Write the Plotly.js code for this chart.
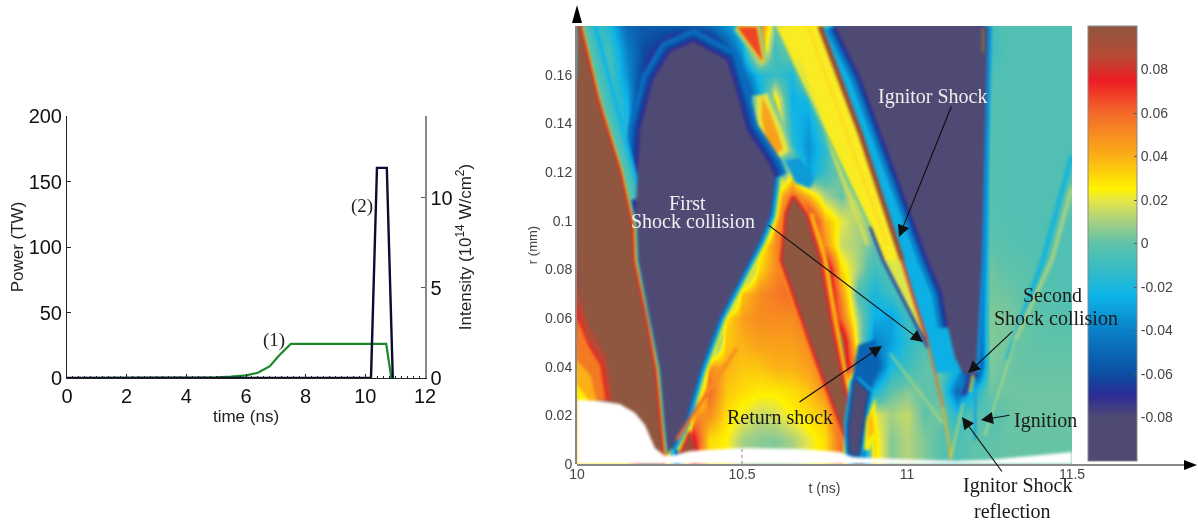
<!DOCTYPE html>
<html><head><meta charset="utf-8">
<script src="https://cdn.plot.ly/plotly-3.0.1.min.js"></script>
<style>
html,body{margin:0;padding:0;background:#fff}
#plot{width:1198px;height:523px;filter:blur(.35px)}
.subplot.x2y3 .scatterlayer{filter:blur(1.5px)}
</style></head><body><div id="plot"></div>
<script>
// ---------- left chart data ----------
const timeGreen=[0,4,5,5.5,6,6.4,6.8,7.1,7.5,10.7,10.87];
const powerGreen=[0,.2,.5,1,2,4,9,17,26,26,0];
const timeBlack=[0,10.19,10.39,10.72,10.92];
const intensityBlack=[0,0,11.67,11.67,0];
// ---------- right chart data ----------
const tValues=[10,10.05,10.1,10.15,10.2,10.25,10.3,10.35,10.4,10.45,10.5,10.55,10.6,10.65,10.7,10.75,10.8,10.85,10.9,10.95,11,11.05,11.1,11.15,11.2,11.25,11.3,11.35,11.4,11.45,11.5];
const rValues=[0,.01,.02,.03,.04,.05,.06,.07,.08,.09,.1,.11,.12,.13,.14,.15,.16,.17,.18];
const zValues=[
[.03,.03,.03,.03,.1,.1,-.05,.08,.03,.025,.01,.006,.005,.01,.02,.03,.06,-.08,.03,.005,.012,.005,-.002,-.005,0,0,.001,.001,.001,.001,.001],
[.03,.03,.03,.03,.1,.1,-.05,.08,.03,.025,.01,.006,.005,.01,.02,.03,.06,-.08,.03,.005,.012,.005,-.002,-.005,0,0,.001,.001,.001,.001,.001],
[.03,.07,.085,.1,.1,.1,-.1,.05,.05,.03,.022,.015,.017,.025,.03,.035,.07,-.1,.02,.01,.015,0,.003,-.015,0,-.003,.001,.002,.002,.002,.002],
[.03,.045,.07,.1,.1,-.1,-.1,-.03,.06,.035,.03,.027,.027,.03,.035,.05,.08,-.1,-.02,0,.005,0,0,-.05,-.02,.002,.002,.002,.002,.002,.002],
[.04,.06,.075,.1,.1,-.1,-.1,-.1,.05,.04,.035,.035,.04,.04,.045,.055,.1,.04,-.06,-.02,-.01,0,0,-.02,-.1,.004,.002,.001,.001,.001,.001],
[.06,.07,.09,.1,.1,-.1,-.1,-.1,-.04,.035,.04,.045,.045,.045,.05,.07,.1,.015,-.04,-.03,-.015,-.005,0,-.03,-.1,.005,.003,.001,0,0,0],
[.07,.08,.1,.1,.09,-.1,-.1,-.1,-.1,.03,.045,.05,.05,.05,.06,.1,.06,.01,-.025,-.03,-.01,-.005,-.03,-.1,-.1,.005,.004,.001,0,-.002,-.003],
[.07,.09,.1,.1,-.1,-.1,-.1,-.1,-.1,-.05,.035,.05,.055,.06,.07,.1,.05,-.005,-.02,-.01,.005,.005,-.03,-.1,-.1,.003,.002,0,-.002,-.003,-.004],
[.085,.1,.1,.1,-.1,-.1,-.1,-.1,-.1,-.1,-.03,.03,.05,.06,.09,.1,.03,.01,-.01,0,.015,0,-.05,-.09,-.1,.002,0,-.001,-.003,-.004,-.004],
[.1,.1,.1,.1,-.1,-.1,-.1,-.1,-.1,-.1,-.1,.02,.05,.09,.1,.05,.015,.01,0,.01,.02,-.03,-.07,-.1,-.1,0,-.002,-.003,-.004,-.004,-.004],
[.1,.1,.1,.1,-.1,-.1,-.1,-.1,-.1,-.1,-.1,-.1,.04,.085,.09,.04,.02,.01,.015,.024,.015,-.05,-.09,-.1,-.1,-.002,-.003,-.004,-.004,-.004,-.004],
[.1,.1,.1,0,-.1,-.1,-.1,-.1,-.1,-.1,-.1,-.08,.03,.06,.04,.01,0,.02,.026,.024,-.04,-.07,-.1,-.1,-.1,-.002,-.004,-.004,-.004,-.004,.004],
[.1,.1,.1,-.02,-.1,-.1,-.1,-.1,-.1,-.1,-.1,-.1,-.03,.02,-.03,-.01,.005,.026,.027,-.04,-.07,-.1,-.1,-.1,-.1,-.002,-.004,-.004,-.004,-.004,-.004],
[.1,.1,.06,-.01,-.1,-.1,-.1,-.1,-.1,-.1,-.1,-.09,.035,-.015,-.035,-.015,.02,.028,-.04,-.07,-.1,-.1,-.1,-.1,-.1,-.002,-.004,-.004,-.004,-.004,-.004],
[.1,.1,0,-.02,-.09,-.1,-.1,-.1,-.1,-.1,-.1,-.06,.04,-.02,-.03,0,.025,.05,-.05,-.09,-.1,-.1,-.1,-.1,-.1,-.003,-.004,-.004,-.004,-.004,-.004],
[.1,.1,-.002,-.025,-.08,-.1,-.1,-.1,-.1,-.1,-.08,-.03,.03,-.025,-.02,.024,.028,-.045,-.09,-.1,-.1,-.1,-.1,-.1,-.1,-.003,-.004,-.004,-.004,-.004,-.004],
[.1,.02,-.005,-.035,-.065,-.1,-.1,-.1,-.1,-.09,-.05,-.02,-.01,-.02,.02,.026,.02,-.05,-.1,-.1,-.1,-.1,-.1,-.1,-.1,-.004,-.004,-.004,-.004,-.004,-.004],
[.1,-.002,-.01,-.04,-.06,-.07,-.09,-.1,-.09,-.06,-.03,.05,-.01,.01,.025,.027,-.05,-.1,-.1,-.1,-.1,-.1,-.1,-.1,-.1,-.01,-.004,-.004,-.004,-.004,-.004],
[.1,-.005,-.02,-.05,-.055,-.055,-.055,-.055,-.05,-.035,-.02,.06,.005,.025,.027,.025,-.06,-.1,-.1,-.1,-.1,-.1,-.1,-.1,-.1,-.006,-.004,-.004,-.004,-.004,-.004]
];
// sharp structures, [t (ns)] and [r (mm)]
const yellowBandT=[10.6,10.736,10.858,10.985,11.024,11.064,10.927,10.888];
const yellowBandR=[.18,.18,.136,.0838,.0662,.0477,.0838,.0974];
const paleBandT=[10.93,10.985,11.024,11.064];
const paleBandR=[.0838,.0838,.0662,.0477];
const streakOneT=[10.67,10.88];
const streakOneR=[.166,.09];
const streakTwoT=[10.7,10.94];
const streakTwoR=[.18,.09];
const thinShockT=[10.6,10.888];
const thinShockR=[.1796,.0974];
const darkShockT=[10.888,10.927,11.064];
const darkShockR=[.0974,.0838,.0477];
const topWedgeT=[10.485,10.545,10.564,10.485];
const topWedgeR=[.1796,.1796,.165,.1796];
const lensT=[10.56,10.585,10.609,10.624,10.6,10.575,10.56,10.56];
const lensR=[.1515,.1443,.136,.1295,.1272,.1332,.1414,.1515];
const spotT=[10.63,10.676,10.721,10.706,10.661,10.63];
const spotR=[.125,.1258,.1176,.1134,.1155,.125];
const frontT=[10.6,10.594,10.585,10.555,10.524,10.433,10.373,10.327,10.288];
const frontR=[.1176,.1106,.1023,.0921,.0838,.0604,.0386,.0169,.0066];
const arcT=[10.176,10.182,10.191,10.23,10.282,10.352,10.455,10.491,10.515,10.585,10.6];
const arcR=[.1,.1167,.1373,.1578,.1693,.1735,.166,.1496,.1373,.1229,.1176];
const purpleT=[10.352,10.455,10.491,10.515,10.585,10.6,10.594,10.585,10.555,10.524,10.433,10.373,10.327,10.288,10.273,10.258,10.245,10.236,10.209,10.179,10.176,10.182,10.191,10.23,10.282];
const purpleR=[.1735,.166,.1496,.1373,.1229,.1176,.1106,.1023,.0921,.0838,.0604,.0386,.0169,.0066,.0037,.0078,.0169,.0386,.0604,.0838,.1,.1167,.1373,.1578,.1693];
const wedgeUpperT=[10.009,10.064,10.13,10.15];
const wedgeUpperR=[.18,.149,.12,.108];
const wedgeEdgeT=[10.009,10.064,10.13,10.167,10.17,10.206,10.236,10.25,10.26];
const wedgeEdgeR=[.18,.149,.12,.0974,.0838,.0604,.0386,.017,.004];
const wedgeT=[10,10.009,10.064,10.13,10.167,10.17,10.206,10.236,10.25,10.26,10];
const wedgeR=[.18,.18,.149,.12,.0974,.0838,.0604,.0386,.017,.004,0];
const hotRedT=[10,10.039,10.09,10.109,10];
const hotRedR=[.0715,.056,.044,.0263,.0263];
const hotDeepT=[10,10.03,10.08,10.097,10];
const hotDeepR=[.066,.052,.041,.0263,.0263];
const hotOrangeT=[10,10.033,10.07,10.086,10];
const hotOrangeR=[.06,.0489,.0407,.0263,.0263];
const hotAmberT=[10,10.04,10.06,10];
const hotAmberR=[.0427,.0366,.0255,.0255];
const hotYellowT=[10,10.024,10.04,10];
const hotYellowR=[.0325,.0284,.0255,.0255];
const brownT=[10.655,10.694,10.736,10.767,10.812,10.824,10.83,10.818,10.727,10.621,10.636,10.655];
const brownR=[.1097,.1023,.0838,.0592,.0292,.0152,.0033,.0099,.0427,.0838,.1032,.1097];
const brownRightT=[10.694,10.736,10.767,10.812,10.824,10.83];
const brownRightR=[.1023,.0838,.0592,.0292,.0152,.0033];
const notchT=[10.842,10.824,10.827,10.852,10.873,10.882,10.842];
const notchR=[.0345,.0152,.0045,.0037,.0234,.0292,.0345];
const deepBlueT=[10.833,10.852,10.903,10.918,10.888,10.833];
const deepBlueR=[.0345,.0489,.051,.0407,.0296,.0345];
const patchT=[10.903,10.909,10.888,10.87,10.876,10.903];
const patchR=[.0271,.014,.0058,.0058,.0181,.0271];
const patchCoreT=[10.894,10.9,10.882,10.882,10.894];
const patchCoreR=[.0214,.0132,.0099,.0181,.0214];
const streakLowT=[10.303,10.394];
const streakLowR=[.0099,.0292];
const streakHighT=[10.394,10.485];
const streakHighR=[.0292,.0477];
const blobT=[10.342,10.364,10.312,10.342];
const blobR=[.0132,.0049,.0041,.0132];
const bandT=[10.736,10.858,10.985,11.024,11.061,11.085,11.167,11.145,11.124,11.106,11.064,10.858,10.782];
const bandR=[.18,.136,.0838,.0662,.051,.0374,.0378,.044,.0563,.0703,.0838,.159,.18];
const darkEdgeT=[10.782,10.858,11.064,11.106,11.124];
const darkEdgeR=[.18,.159,.0838,.0703,.0563];
const rightEdgeT=[11.245,11.227,11.209];
const rightEdgeR=[.18,.0838,.0374];
const darkT=[10.782,10.858,11.064,11.106,11.124,11.145,11.167,11.206,11.209,11.227,11.245];
const darkR=[.18,.159,.0838,.0703,.0563,.044,.0378,.0353,.0374,.0838,.18];
const shockTopT=[10.736,10.858,10.985];
const shockTopR=[.18,.136,.0838];
const shockMidT=[10.985,11.024,11.061];
const shockMidR=[.0838,.0662,.051];
const shockLowT=[11.061,11.085,11.109];
const shockLowR=[.051,.0374,.0234];
const shockEndT=[11.109,11.124,11.133];
const shockEndR=[.0234,.0111,.0016];
const reflectT=[11.133,11.17];
const reflectR=[.0025,.0251];
const faintT=[10.948,11.109];
const faintR=[.0456,.0168];
const spotDarkT=[11.161,11.179,11.206,11.191,11.161];
const spotDarkR=[.0284,.028,.0366,.0378,.0284];
const sparkT=[11.2,11.191];
const sparkR=[.0366,.0296];
const ignitionT=[11.206,11.206];
const ignitionR=[.0353,.0099];
const cyanTopT=[11.5,11.412,11.303];
const cyanTopR=[.127,.0838,.0427];
const cyanLowT=[11.303,11.236];
const cyanLowR=[.0427,.014];
const greenTopT=[11.5,11.439,11.327];
const greenTopR=[.1138,.0838,.051];
const greenLowT=[11.327,11.236];
const greenLowR=[.051,.0119];
const hairT=[11.23,11.23];
const hairR=[.179,.169];
const maskT=[10,10.07,10.13,10.176,10.206,10.236,10.267,10.297,10.342,10.5,10.676,10.797,10.833,10.888,11.14,11.242,11.5,11.5,10];
const maskR=[.0263,.0259,.0247,.021,.016,.0066,.0033,.0037,.0053,.0066,.0062,.0049,.0029,.0025,.0012,.0016,.0049,0,0];
const colorTicks=[.08,.06,.04,.02,0,-.02,-.04,-.06,-.08];
const colorTickText=['0.08','0.06','0.04','0.02','0','-0.02','-0.04','-0.06','-0.08'];

const scale=[[0,'#4f4a73'],[.1,'#4f4a73'],[.15,'#2c2c96'],[.2,'#0b4ea2'],[.3,'#0a80c8'],[.38,'#0db4e8'],[.45,'#3cbdc0'],[.5,'#5fc2aa'],[.55,'#a6d083'],[.6,'#e6e645'],[.625,'#fff200'],[.7,'#fbb016'],[.8,'#f4692a'],[.875,'#ed1c24'],[.93,'#b64a35'],[1,'#8f5640']];

const traces=[
 {type:'scatter',mode:'lines',x:timeBlack,y:intensityBlack,yaxis:'y2',xaxis:'x',line:{color:'#0b0b33',width:2.4},cliponaxis:false,showlegend:false,hoverinfo:'skip'},
 {type:'scatter',mode:'lines',x:timeGreen,y:powerGreen,xaxis:'x',yaxis:'y',line:{color:'#1a8a2a',width:2.2},cliponaxis:false,showlegend:false,hoverinfo:'skip'},
 {type:'heatmap',x:tValues,y:rValues,z:zValues,xaxis:'x2',yaxis:'y3',zmin:-.1,zmax:.1,zsmooth:'best',colorscale:scale,hoverinfo:'skip',
  colorbar:{x:1088/1198,xanchor:'left',xpad:0,ypad:0,y:1-461/523,yanchor:'bottom',len:435,lenmode:'pixels',thickness:49,thicknessmode:'pixels',
   tickvals:colorTicks,ticktext:colorTickText,tickfont:{family:'Liberation Sans',size:14,color:'#444'},outlinecolor:'#888',outlinewidth:1,ticks:'inside',ticklen:3,tickcolor:'#555',borderwidth:0}}
];
function fillArea(t,r,color){traces.push({type:'scatter',mode:'lines',x:t,y:r,xaxis:'x2',yaxis:'y3',fill:'toself',fillcolor:color,line:{width:0,color:color},showlegend:false,hoverinfo:'skip'});}
function stroke(t,r,color,width){traces.push({type:'scatter',mode:'lines',x:t,y:r,xaxis:'x2',yaxis:'y3',line:{color:color,width:width},showlegend:false,hoverinfo:'skip'});}

fillArea(yellowBandT,yellowBandR,'#f9ec22');
fillArea(paleBandT,paleBandR,'#dce84a');
stroke(streakOneT,streakOneR,'#d8e24e',3);
stroke(streakTwoT,streakTwoR,'#fdd820',2.5);
stroke(thinShockT,thinShockR,'#45bdb6',2);
stroke(darkShockT,darkShockR,'#1f3fa8',3);
stroke(topWedgeT,topWedgeR,'#6fc6a0',9);
stroke(topWedgeT,topWedgeR,'#f7e326',4);
fillArea(topWedgeT,topWedgeR,'#ee4424');
stroke(lensT,lensR,'#5fc2aa',20);
stroke(lensT,lensR,'#a6d083',14);
stroke(lensT,lensR,'#e8e83c',9);
fillArea(lensT,lensR,'#f9a11b');
fillArea(spotT,spotR,'#0f9ad8');
stroke(frontT,frontR,'#fff000',17);
stroke(frontT,frontR,'#0db4e8',11);
stroke(frontT,frontR,'#0a6dc0',5);
stroke(arcT,arcR,'#0a6dc0',24);
stroke(arcT,arcR,'#0b4ea2',14);
stroke(arcT,arcR,'#2c2c96',7);
stroke(wedgeUpperT,wedgeUpperR,'#0db4e8',34);
stroke(wedgeUpperT,wedgeUpperR,'#3cbdc0',26);
stroke(wedgeUpperT,wedgeUpperR,'#5fc2aa',16);
fillArea(purpleT,purpleR,'#4f4a73');
stroke(wedgeEdgeT,wedgeEdgeR,'#0db4e8',10);
stroke(wedgeEdgeT,wedgeEdgeR,'#fff000',7);
stroke(wedgeEdgeT,wedgeEdgeR,'#ed1c24',4);
fillArea(wedgeT,wedgeR,'#8f5640');
fillArea(hotRedT,hotRedR,'#b64a35');
fillArea(hotDeepT,hotDeepR,'#e62a24');
fillArea(hotOrangeT,hotOrangeR,'#f47a22');
fillArea(hotAmberT,hotAmberR,'#fbb016');
fillArea(hotYellowT,hotYellowR,'#fff000');
stroke(brownRightT,brownRightR,'#fff000',14);
stroke(brownT,brownR,'#f7941e',10);
stroke(brownT,brownR,'#ed1c24',5);
fillArea(brownT,brownR,'#8f5640');
fillArea(deepBlueT,deepBlueR,'#0a62b4');
stroke(notchT,notchR,'#0db4e8',10);
stroke(notchT,notchR,'#0b4ea2',5);
fillArea(notchT,notchR,'#4f4a73');
fillArea(patchT,patchR,'#fff000');
fillArea(patchCoreT,patchCoreR,'#fdb813');
stroke(streakLowT,streakLowR,'#f4692a',3.5);
stroke(streakHighT,streakHighR,'#f88c20',3.5);
stroke(blobT,blobR,'#ed1c24',3);
fillArea(blobT,blobR,'#a34a36');
fillArea(bandT,bandR,'#0db0e4');
stroke(darkEdgeT,darkEdgeR,'#0a80c8',20);
stroke(darkEdgeT,darkEdgeR,'#0b4ea2',11);
stroke(darkEdgeT,darkEdgeR,'#2c2c96',5);
stroke(rightEdgeT,rightEdgeR,'#0a90dc',8);
fillArea(darkT,darkR,'#4f4a73');
stroke(hairT,hairR,'#c8a020',1);
stroke(shockTopT,shockTopR,'#9a4a30',5);
stroke(shockMidT,shockMidR,'#d8402a',3);
stroke(shockLowT,shockLowR,'#f0701c',2);
stroke(shockEndT,shockEndR,'#f5b01c',2);
stroke(reflectT,reflectR,'#d8dc50',1.6);
stroke(faintT,faintR,'#c4dc6a',1.4);
fillArea(spotDarkT,spotDarkR,'#2b3f9f');
stroke(sparkT,sparkR,'#fff000',2);
stroke(ignitionT,ignitionR,'#12a6e0',3);
stroke(cyanTopT,cyanTopR,'#18b4d8',5);
stroke(cyanLowT,cyanLowR,'#3cbdc0',2);
stroke(greenTopT,greenTopR,'#a6d083',4);
stroke(greenLowT,greenLowR,'#b8d87a',2);
fillArea(maskT,maskR,'#ffffff');

const W=1198,H=523;
const px=v=>v/W, py=v=>1-v/H;
const serif='Liberation Serif';
function label(text,x,y,color,size){return {text:text,xref:'paper',yref:'paper',x:px(x),y:py(y),xanchor:'center',yanchor:'middle',showarrow:false,font:{family:serif,size:size||20,color:color}};}
function arrow(x0,y0,x1,y1){return {text:'',xref:'paper',yref:'paper',x:px(x1),y:py(y1),ax:x0-x1,ay:y0-y1,axref:'pixel',ayref:'pixel',showarrow:true,arrowhead:2,arrowsize:2,arrowwidth:1.2,arrowcolor:'#111',standoff:0};}

const layout={
 width:W,height:H,margin:{l:0,r:0,t:0,b:0},paper_bgcolor:'#fff',plot_bgcolor:'#fff',showlegend:false,
 font:{family:'Liberation Sans'},
 xaxis:{domain:[67/W,425/W],range:[0,12],anchor:'y',dtick:2,tick0:0,ticks:'inside',ticklen:4,tickwidth:1,tickcolor:'#222',showgrid:false,zeroline:false,showline:true,linecolor:'#222',linewidth:1,
  minor:{ticks:'inside',dtick:.2,ticklen:2,tickcolor:'#222',showgrid:false},tickfont:{size:20,color:'#111'},title:{text:'time (ns)',font:{size:17,color:'#222'},standoff:0}},
 yaxis:{domain:[1-378/H,1-116/H],range:[0,200],anchor:'x',dtick:50,ticks:'inside',ticklen:4,tickcolor:'#222',showgrid:false,zeroline:false,showline:true,linecolor:'#222',linewidth:1,
  tickfont:{size:20,color:'#111'},title:{text:'Power (TW)',font:{size:17,color:'#222'},standoff:0}},
 yaxis2:{domain:[1-378/H,1-116/H],range:[0,14.55],anchor:'x',overlaying:'y',side:'right',tickvals:[0,5,10],ticks:'inside',ticklen:4,tickcolor:'#555',showgrid:false,zeroline:false,showline:true,linecolor:'#888',linewidth:1.5,
  tickfont:{size:20,color:'#111'},title:{text:'Intensity (10<sup>14</sup> W/cm<sup>2</sup>)',font:{size:17,color:'#222'},standoff:7}},
 xaxis2:{domain:[577/W,1072/W],range:[10,11.5],anchor:'y3',tickvals:[10,10.5,11,11.5],ticktext:['10','10.5','11','11.5'],ticks:'',showgrid:false,zeroline:false,showline:false,
  tickfont:{size:14,color:'#444'},title:{text:'t (ns)',font:{size:14,color:'#444'},standoff:2}},
 yaxis3:{domain:[1-464/H,1-26/H],range:[0,.18],anchor:'x2',tickvals:[0,.02,.04,.06,.08,.1,.12,.14,.16],ticktext:['0','0.02','0.04','0.06','0.08','0.1','0.12','0.14','0.16'],ticks:'',showgrid:false,zeroline:false,showline:true,linecolor:'#888',linewidth:2,
  tickfont:{size:14,color:'#444'},title:{text:'r (mm)',font:{size:13,color:'#444'},standoff:4}},
 shapes:[
  {type:'line',xref:'paper',yref:'paper',x0:px(577),x1:px(1186),y0:py(465),y1:py(465),line:{color:'#888',width:2},layer:'above'},
  {type:'line',xref:'x2',yref:'y3',x0:10.5,x1:10.5,y0:0,y1:.0062,line:{color:'#888',width:1,dash:'dot'},layer:'above'},
  {type:'path',xref:'paper',yref:'paper',path:`M ${px(577)} ${py(5)} L ${px(572)} ${py(23)} L ${px(582)} ${py(23)} Z`,fillcolor:'#000',line:{width:0},layer:'above'},
  {type:'path',xref:'paper',yref:'paper',path:`M ${px(1197)} ${py(465)} L ${px(1184)} ${py(460)} L ${px(1184)} ${py(470)} Z`,fillcolor:'#000',line:{width:0},layer:'above'}
 ],
 annotations:[
  label('(1)',274,340,'#222',19),label('(2)',362,206,'#222',19),
  label('First',687,203,'#f0f0f0'),label('Shock collision',693,221,'#f0f0f0'),
  label('Ignitor Shock',932,96,'#eeeeee'),label('Return shock',780,417,'#1a1a1a'),
  label('Second',1052,295,'#1a1a1a'),label('Shock collision',1056,318,'#1a1a1a'),
  label('Ignition',1045,420,'#1a1a1a'),label('Ignitor Shock',1017,485,'#1a1a1a'),label('reflection',1013,511,'#1a1a1a'),
  arrow(767,224,923,342),arrow(952,105,899,237),arrow(798,403,882,346),arrow(1014,330,968,373),arrow(1011,415,981,420),arrow(1003,473,962,417)
 ]
};
Plotly.newPlot('plot',traces,layout,{staticPlot:true,displayModeBar:false});
</script></body></html>
